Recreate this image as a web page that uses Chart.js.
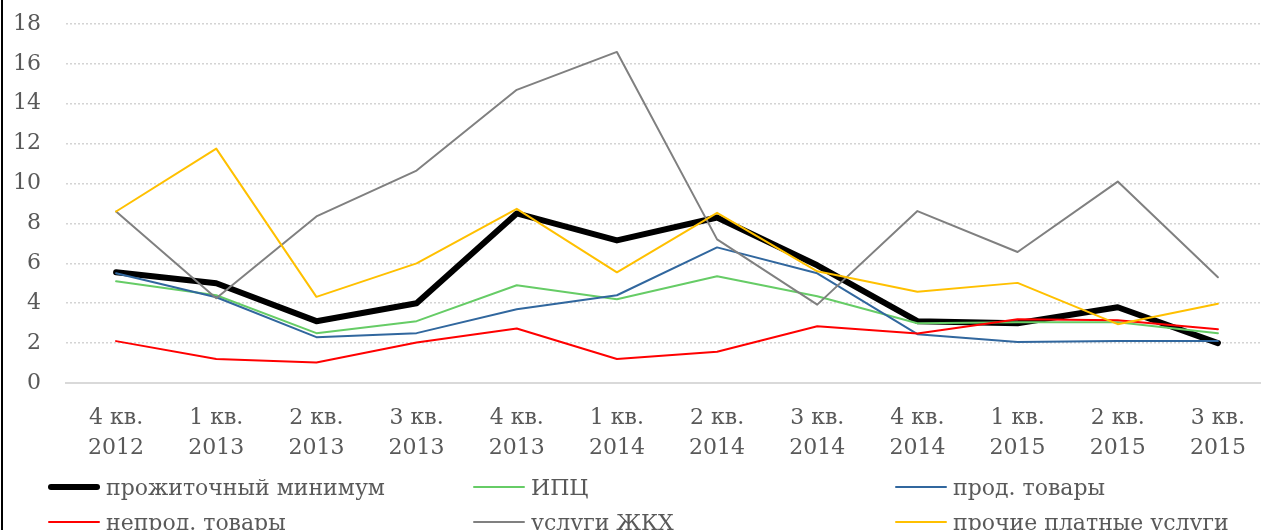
<!DOCTYPE html>
<html>
<head>
<meta charset="utf-8">
<script src="https://cdn.jsdelivr.net/npm/chart.js@4/dist/chart.umd.min.js"></script>
<style>
  html, body { margin: 0; padding: 0; background: #fff; overflow: hidden; }
  #wrap { position: relative; width: 1268px; height: 530px; }
  #borde { position: absolute; left: 1px; top: 0; width: 2px; height: 530px; background: #000; }
  #leyenda { position: absolute; left: 0; top: 0; width: 1268px; height: 530px; pointer-events: none; }
  .item { position: absolute; display: flex; align-items: center; font-family: "DejaVu Serif", serif; font-size: 22px; color: #595959; white-space: nowrap; }
  .muestra { width: 52px; margin-right: 6px; }
</style>
</head>
<body>
<div id="wrap">
  <canvas id="grafico" width="1268" height="530"></canvas>
  <div id="borde"></div>
  <div id="leyenda"></div>
</div>
<script>
// Periodos (trimestres)
const periodos = [
  ['4 кв.', '2012'], ['1 кв.', '2013'], ['2 кв.', '2013'], ['3 кв.', '2013'],
  ['4 кв.', '2013'], ['1 кв.', '2014'], ['2 кв.', '2014'], ['3 кв.', '2014'],
  ['4 кв.', '2014'], ['1 кв.', '2015'], ['2 кв.', '2015'], ['3 кв.', '2015']
];

// Series
const prozhitochnyMinimum = [5.55, 5.0, 3.1, 4.0, 8.5, 7.15, 8.3, 5.9, 3.1, 3.0, 3.8, 2.0];
const ipc = [5.1, 4.4, 2.5, 3.1, 4.9, 4.2, 5.35, 4.35, 3.0, 3.05, 3.05, 2.5];
const prodTovary = [5.5, 4.3, 2.3, 2.5, 3.7, 4.4, 6.8, 5.5, 2.45, 2.05, 2.1, 2.1];
const neprodTovary = [2.1, 1.2, 1.03, 2.03, 2.73, 1.2, 1.57, 2.85, 2.48, 3.2, 3.15, 2.7];
const uslugiZhkh = [8.6, 4.25, 8.35, 10.65, 14.7, 16.6, 7.2, 3.93, 8.62, 6.57, 10.1, 5.3];
const prochieUslugi = [8.6, 11.75, 4.32, 6.0, 8.73, 5.55, 8.53, 5.6, 4.57, 5.02, 2.95, 3.97];

const ejeY = { min: 0, max: 18, paso: 2 };

const series = [
  { label: 'прожиточный минимум', data: prozhitochnyMinimum, color: '#000000', ancho: 6 },
  { label: 'ИПЦ', data: ipc, color: '#66CC66', ancho: 2 },
  { label: 'прод. товары', data: prodTovary, color: '#31679E', ancho: 2 },
  { label: 'непрод. товары', data: neprodTovary, color: '#FF0000', ancho: 2 },
  { label: 'услуги ЖКХ', data: uslugiZhkh, color: '#808080', ancho: 2 },
  { label: 'прочие платные услуги', data: prochieUslugi, color: '#FFC000', ancho: 2 }
];

const fuente = { family: 'DejaVu Serif', size: 22 };

const ctx = document.getElementById('grafico').getContext('2d');
new Chart(ctx, {
  type: 'line',
  data: {
    labels: periodos,
    datasets: series.map((s, i) => ({
      label: s.label,
      data: s.data,
      borderColor: s.color,
      backgroundColor: s.color,
      borderWidth: s.ancho,
      pointRadius: 0,
      tension: 0,
      fill: false,
      borderJoinStyle: 'round',
      borderCapStyle: 'round',
      order: series.length - i
    }))
  },
  options: {
    responsive: false,
    animation: false,
    layout: { padding: { top: 24, left: 0, right: 0, bottom: 0 } },
    plugins: { legend: { display: false }, tooltip: { enabled: false } },
    scales: {
      x: {
        offset: true,
        grid: { display: false, drawTicks: false },
        border: { display: true, color: '#D9D9D9', width: 2 },
        ticks: {
          color: '#595959',
          font: { family: fuente.family, size: fuente.size, lineHeight: 1.36 },
          padding: 20,
          autoSkip: false,
          maxRotation: 0
        },
        afterFit: scale => { scale.height = 147; }
      },
      y: {
        min: ejeY.min,
        max: ejeY.max,
        grid: {
          drawTicks: false,
          lineWidth: 1.5,
          color: c => c.tick && c.tick.value === 0 ? 'rgba(0,0,0,0)' : '#D4D4D4'
        },
        border: { display: false, dash: [2, 2] },
        ticks: {
          stepSize: ejeY.paso,
          color: '#595959',
          font: fuente,
          padding: 25
        },
        afterFit: scale => {
          scale.width = 66;
          scale.paddingTop = 0;
          scale.paddingBottom = 0;
        }
      }
    }
  }
});

// Leyenda en tres columnas
const leyenda = document.getElementById('leyenda');
const columnas = [48, 473, 895];
const filas = [487, 522];
series.forEach((s, i) => {
  const item = document.createElement('div');
  item.className = 'item';
  item.style.left = columnas[i % 3] + 'px';
  item.style.top = (filas[Math.floor(i / 3)] - 15) + 'px';
  item.style.height = '30px';
  item.innerHTML = `<div class="muestra" style="height:${s.ancho}px;background:${s.color};border-radius:${s.ancho / 2}px"></div><span>${s.label}</span>`;
  leyenda.appendChild(item);
});
</script>
</body>
</html>
